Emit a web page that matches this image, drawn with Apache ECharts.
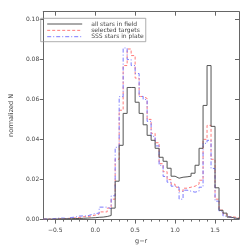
<!DOCTYPE html>
<html><head><meta charset="utf-8">
<script src="https://cdn.jsdelivr.net/npm/echarts@6/dist/echarts.min.js"></script>
<style>html,body{margin:0;padding:0;background:#fff}#c{width:250px;height:250px}</style>
</head><body><div id="c"></div>
<script>
const binEdges = [-0.65,-0.60,-0.55,-0.50,-0.45,-0.40,-0.35,-0.30,-0.25,-0.20,-0.15,-0.10,-0.05,0.00,0.05,0.10,0.15,0.20,0.25,0.30,0.35,0.40,0.45,0.50,0.55,0.60,0.65,0.70,0.75,0.80,0.85,0.90,0.95,1.00,1.05,1.10,1.15,1.20,1.25,1.30,1.35,1.40,1.45,1.50,1.55,1.60,1.65,1.70,1.75,1.80];
const allStars = [0,0,0,0.0001,0.0001,0.0002,0.0002,0.0003,0.0003,0.0004,0.0005,0.0006,0.0007,0.0009,0.0010,0.0013,0.0018,0.0055,0.0190,0.0370,0.0530,0.0660,0.0660,0.0586,0.0530,0.0473,0.0420,0.0395,0.0355,0.0310,0.0290,0.0255,0.0215,0.0205,0.0210,0.0212,0.0215,0.0230,0.0270,0.0355,0.0570,0.0770,0.0465,0.0157,0.0044,0.0030,0.0010,0.0005,0.0003];
const selectedTargets = [0,0,0.0002,0.0002,0.0003,0.0003,0.0005,0.0006,0.0008,0.0012,0.0012,0.0016,0.0020,0.0025,0.0036,0.0036,0.0055,0.0100,0.0300,0.0546,0.0770,0.0853,0.0820,0.0707,0.0615,0.0605,0.0500,0.0430,0.0383,0.0278,0.0238,0.0198,0.0175,0.0160,0.0140,0.0155,0.0160,0.0165,0.0175,0.0195,0.0400,0.0470,0.0300,0.0100,0.0045,0.0025,0.0012,0.0010,0.0006];
const sssStars = [0,0,0.0003,0.0005,0.0005,0.0003,0.0008,0.0010,0.0015,0.0016,0.0016,0.0022,0.0028,0.0030,0.0060,0.0060,0.0052,0.0117,0.0360,0.0614,0.0858,0.0800,0.0770,0.0730,0.0615,0.0600,0.0490,0.0415,0.0367,0.0270,0.0214,0.0185,0.0165,0.0160,0.0100,0.0145,0.0140,0.0135,0.0140,0.0160,0.0380,0.0395,0.0254,0.0090,0.0040,0.0015,0.0008,0.0003,0.0002];
const seriesNames = ['all stars in field','selected targets','SSS stars in plate'];
const xTicks = [-0.5,0,0.5,1.0,1.5];
const xMinorTicks = [-0.6,-0.4,-0.3,-0.2,-0.1,0.1,0.2,0.3,0.4,0.6,0.7,0.8,0.9,1.1,1.2,1.3,1.4,1.6,1.7];
const yTicks = [0,0.02,0.04,0.06,0.08,0.10];

function steps(vals){
  const d = [];
  for (let i = 0; i < vals.length; i++) d.push([binEdges[i], vals[i]]);
  d.push([binEdges[vals.length], vals[vals.length-1]]);
  return d;
}
const axisCol = '#666';
const txtCol = '#444';
const F = 'DejaVu Sans';
const xMin = binEdges[0], xMax = binEdges[binEdges.length-1];
const chart = echarts.init(document.getElementById('c'), null, {renderer:'canvas'});
chart.setOption({
  animation:false,
  backgroundColor:'#fff',
  grid:{left:36.7, right:11, top:11.7, bottom:23.3, containLabel:false},
  legend:{
    orient:'vertical', left:40.7, top:18.3,
    data:seriesNames,
    itemWidth:35, itemHeight:6, itemGap:0.35,
    itemStyle:{opacity:0, borderWidth:0},
    lineStyle:{width:1},
    borderColor:'#999', borderWidth:0.8, borderRadius:0,
    padding:[2.7,2,2,6],
    textStyle:{fontFamily:F, fontSize:6, color:txtCol, padding:[0,0,0,4], lineHeight:6}
  },
  xAxis:[
    {type:'value', min:xMin, max:xMax, position:'bottom',
     name:'g−r', nameLocation:'middle', nameGap:17,
     nameTextStyle:{fontFamily:F, fontSize:6.5, color:txtCol},
     axisLine:{show:true, onZero:false, lineStyle:{color:axisCol, width:1}},
     axisTick:{show:true, inside:false, length:4.5, customValues:xTicks, lineStyle:{color:axisCol, width:1}},
     axisLabel:{show:true, customValues:xTicks, margin:8, fontFamily:F, fontSize:6, color:txtCol,
       formatter:v => (v<0?'−':'') + Math.abs(v).toFixed(1)},
     splitLine:{show:false}},
    {type:'value', min:xMin, max:xMax, position:'bottom',
     axisLine:{show:false},
     axisTick:{show:true, inside:false, length:2.5, customValues:xMinorTicks, lineStyle:{color:axisCol, width:1}},
     axisLabel:{show:false}, splitLine:{show:false}},
    {type:'value', min:xMin, max:xMax, position:'top',
     axisLine:{show:true, onZero:false, lineStyle:{color:axisCol, width:1}},
     axisTick:{show:true, inside:true, length:4, customValues:xTicks, lineStyle:{color:axisCol, width:1}},
     axisLabel:{show:false}, splitLine:{show:false}}
  ],
  yAxis:[
    {type:'value', min:0, max:0.104, position:'left',
     name:'normalized N', nameLocation:'middle', nameGap:21, nameRotate:90,
     nameTextStyle:{fontFamily:F, fontSize:6.5, color:txtCol},
     axisLine:{show:true, onZero:false, lineStyle:{color:axisCol, width:1}},
     axisTick:{show:true, inside:false, length:3.5, customValues:yTicks, lineStyle:{color:axisCol, width:1}},
     axisLabel:{show:true, customValues:yTicks, margin:4, fontFamily:F, fontSize:6, color:txtCol,
       formatter:v => v.toFixed(2)},
     splitLine:{show:false}},
    {type:'value', min:0, max:0.104, position:'right',
     axisLine:{show:true, onZero:false, lineStyle:{color:axisCol, width:1}},
     axisTick:{show:true, inside:true, length:4, customValues:yTicks, lineStyle:{color:axisCol, width:1}},
     axisLabel:{show:false}, splitLine:{show:false}}
  ],
  series:[
    {name:seriesNames[0], type:'line', step:'end', data:steps(allStars), symbol:'none', showSymbol:false,
     xAxisIndex:0, yAxisIndex:0, z:3,
     lineStyle:{color:'#555', width:1, type:'solid'}, itemStyle:{color:'#555'}},
    {name:seriesNames[1], type:'line', step:'end', data:steps(selectedTargets), symbol:'none', showSymbol:false,
     xAxisIndex:0, yAxisIndex:0, z:2,
     lineStyle:{color:'#ff7a7a', width:1, type:[3,2]}, itemStyle:{color:'#ff7a7a'}},
    {name:seriesNames[2], type:'line', step:'end', data:steps(sssStars), symbol:'none', showSymbol:false,
     xAxisIndex:0, yAxisIndex:0, z:2,
     lineStyle:{color:'#7a7aff', width:1, type:[4,2,1,2]}, itemStyle:{color:'#7a7aff'}}
  ]
});
</script></body></html>
